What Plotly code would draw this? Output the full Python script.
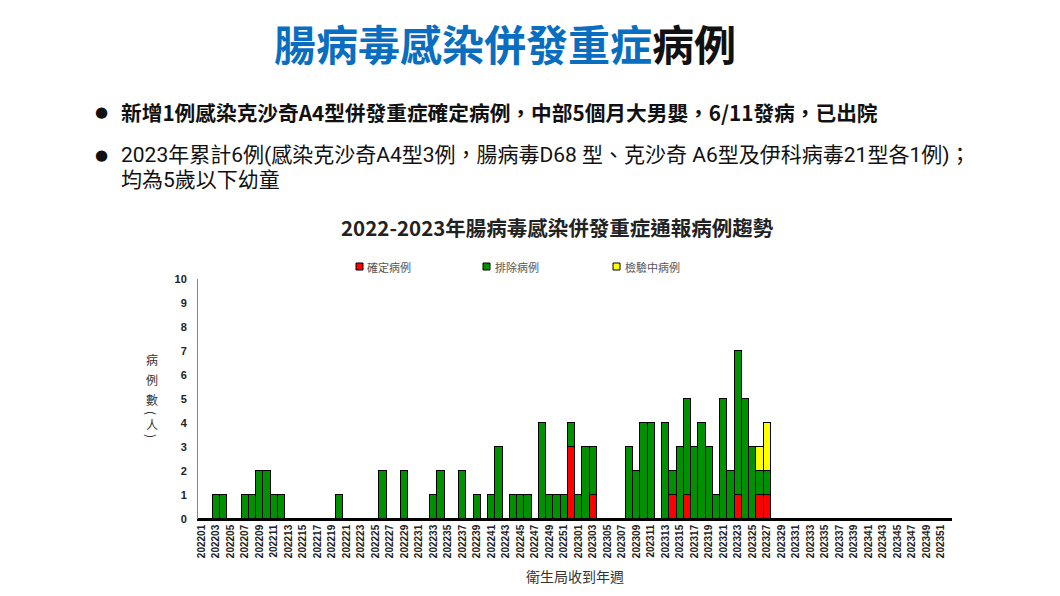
import plotly.graph_objects as go

# ---------------- data ----------------
weeks = [f"{y}{w:02d}" for y in (2022, 2023) for w in range(1, 53)]

confirmed = [0]*51 + [3] + \
    [0, 0, 1, 0, 0, 0, 0, 0, 0, 0, 0, 0, 0, 1, 0, 1, 0, 0, 0, 0, 0, 0, 1, 0, 0, 1, 1] + [0]*25

excluded_2022 = [0, 0, 1, 1, 0, 0, 1, 1, 2, 2, 1, 1, 0, 0, 0, 0, 0, 0, 0, 1,
                 0, 0, 0, 0, 0, 2, 0, 0, 2, 0, 0, 0, 1, 2, 0, 0, 2, 0, 1, 0,
                 1, 3, 0, 1, 1, 1, 0, 4, 1, 1, 1, 1]
excluded_2023 = [1, 3, 2, 0, 0, 0, 0, 3, 2, 4, 4, 0, 4, 1, 3, 4, 3, 4, 3, 1,
                 5, 2, 6, 5, 3, 1, 1] + [0]*25
excluded = excluded_2022 + excluded_2023

pending = [0]*52 + [0]*25 + [1, 2] + [0]*25

tick_labels = weeks[::2]
y_ticks = list(range(0, 11))

series = [
    ("確定病例", confirmed, "#FF0000"),
    ("排除病例", excluded, "#009100"),
    ("檢驗中病例", pending, "#FFFF00"),
]

# ---------------- layout helpers ----------------
W, H = 1060, 596
L, R, T, B = 198, 952, 279, 519


def px(x):
    return (x - L) / (R - L)


def py(y):
    return (B - y) / (B - T)


CJK = "Noto Sans CJK TC"
BODY = "Roboto, Noto Sans CJK TC"

fig = go.Figure()
for name, vals, col in series:
    fig.add_trace(go.Bar(
        x=weeks, y=vals, name=name, showlegend=False,
        marker=dict(color=col, line=dict(color="#000000", width=1)),
        width=1,
    ))

fig.update_layout(
    barmode="stack", bargap=0,
    width=W, height=H, autosize=False,
    margin=dict(l=L, r=W - R, t=T, b=H - B, pad=0),
    paper_bgcolor="white", plot_bgcolor="white",
    font=dict(family=CJK, color="#000"),
    xaxis=dict(
        type="category", categoryorder="array", categoryarray=weeks,
        range=[-0.5, len(weeks) - 0.5],
        tickmode="array", tickvals=tick_labels, ticktext=tick_labels,
        tickangle=-90,
        tickfont=dict(family="Liberation Sans", size=10, color="#222", weight="bold"),
        showline=True, linecolor="#000", linewidth=1.5,
        ticks="", showgrid=False, zeroline=False, fixedrange=True,
    ),
    yaxis=dict(
        range=[0, 10], tickmode="array", tickvals=y_ticks,
        tickfont=dict(family="Liberation Sans", size=11, color="#222", weight="bold"),
        showline=True, linecolor="#888", linewidth=1,
        ticks="", showgrid=False, zeroline=False, ticklabelstandoff=8,
    ),
)

ann = []
# main title
ann.append(dict(
    x=px(505), y=py(42), xref="paper", yref="paper", showarrow=False,
    xanchor="center", yanchor="middle",
    text="<b><span style='color:#0A6EC0'>腸病毒感染併發重症</span>病例</b>",
    font=dict(family=CJK, size=42, color="#111"),
))
# bullets
for yy in (112, 155):
    ann.append(dict(x=px(101), y=py(yy), xref="paper", yref="paper", showarrow=False,
                    xanchor="center", yanchor="middle", text="●",
                    font=dict(family="DejaVu Sans", size=15, color="#111")))
ann.append(dict(x=px(119), y=py(112), xref="paper", yref="paper", showarrow=False,
                xanchor="left", yanchor="middle",
                text="<b>新增1例感染克沙奇A4型併發重症確定病例，中部5個月大男嬰，6/11發病，已出院</b>",
                font=dict(family=CJK, size=20.7, color="#111")))
ann.append(dict(x=px(119), y=py(155), xref="paper", yref="paper", showarrow=False,
                xanchor="left", yanchor="middle",
                text="2023年累計6例(感染克沙奇A4型3例，腸病毒D68 型、克沙奇 A6型及伊科病毒21型各1例)；",
                font=dict(family=BODY, size=21, color="#111")))
ann.append(dict(x=px(119), y=py(180), xref="paper", yref="paper", showarrow=False,
                xanchor="left", yanchor="middle",
                text="均為5歲以下幼童",
                font=dict(family=BODY, size=21, color="#111")))
# chart title
ann.append(dict(x=px(557), y=py(227), xref="paper", yref="paper", showarrow=False,
                xanchor="center", yanchor="middle",
                text="<b>2022-2023年腸病毒感染併發重症通報病例趨勢</b>",
                font=dict(family=CJK, size=20.5, color="#222")))
# legend (custom)
shapes = []
legend_pos = [(356, 365), (483, 493), (613, 623)]
for (name, _, col), (sx, tx) in zip(series, legend_pos):
    shapes.append(dict(type="rect", xref="paper", yref="paper",
                       x0=px(sx), x1=px(sx + 7), y0=py(263), y1=py(270),
                       fillcolor=col, line=dict(color="#000", width=1)))
    ann.append(dict(x=px(tx), y=py(266.5), xref="paper", yref="paper", showarrow=False,
                    xanchor="left", yanchor="middle", text=name,
                    font=dict(family=CJK, size=11, color="#555")))
# y-axis title (vertical)
for ch, yy, ang in zip(["病", "例", "數", "(", "人", ")"],
                       [359, 379, 399, 413, 424, 436],
                       [0, 0, 0, 90, 0, 90]):
    ann.append(dict(x=px(152), y=py(yy), xref="paper", yref="paper", showarrow=False,
                    xanchor="center", yanchor="middle", text=ch, textangle=ang,
                    font=dict(family=CJK, size=12, color="#333")))
# x-axis title
ann.append(dict(x=px(575), y=py(576), xref="paper", yref="paper", showarrow=False,
                xanchor="center", yanchor="middle", text="衛生局收到年週",
                font=dict(family=CJK, size=14, color="#333")))

fig.update_layout(annotations=ann, shapes=shapes)
fig.write_html("out.html")
